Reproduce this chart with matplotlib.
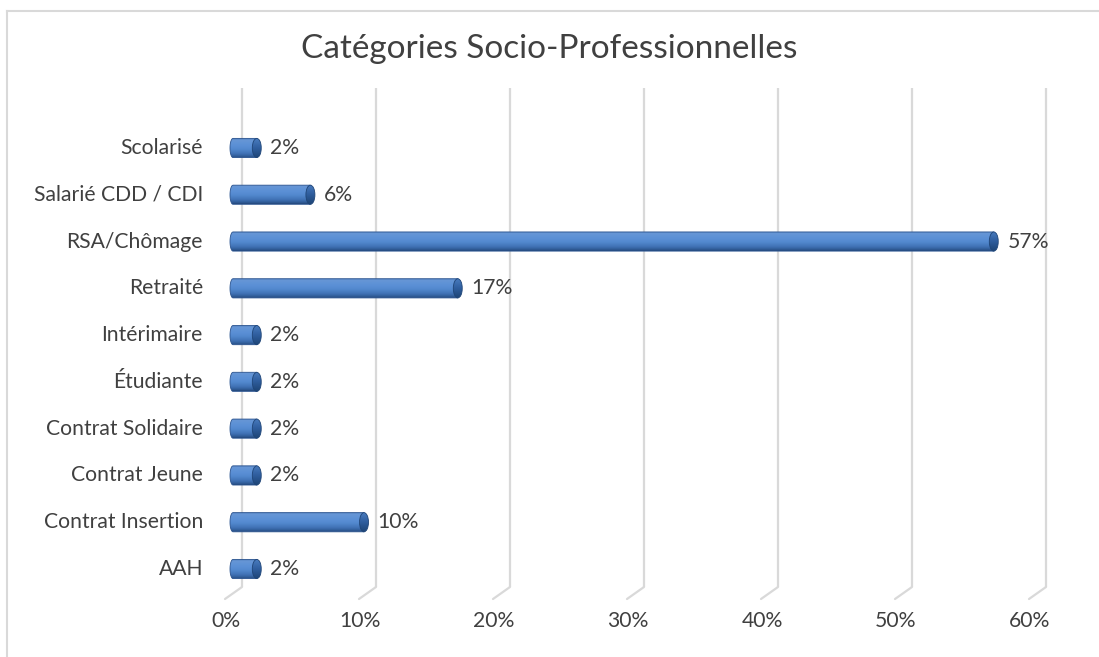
import numpy as np
import matplotlib
matplotlib.use("Agg")
import matplotlib.pyplot as plt
from matplotlib import transforms
from matplotlib.patches import PathPatch, Ellipse
from matplotlib.path import Path
from matplotlib.colors import LinearSegmentedColormap

# ---------------- data ----------------
categories = ["AAH", "Contrat Insertion", "Contrat Jeune", "Contrat Solidaire",
              "Étudiante", "Intérimaire", "Retraité", "RSA/Chômage",
              "Salarié CDD / CDI", "Scolarisé"]
values = [0.02, 0.10, 0.02, 0.02, 0.02, 0.02, 0.17, 0.57, 0.06, 0.02]
value_labels = ["2%", "10%", "2%", "2%", "2%", "2%", "17%", "57%", "6%", "2%"]
ticks = [0.0, 0.1, 0.2, 0.3, 0.4, 0.5, 0.6]
tick_labels = ["0%", "10%", "20%", "30%", "40%", "50%", "60%"]
title = "Catégories Socio-Professionnelles"

# ---------------- layout ----------------
W, H = 1099, 657
S = 1340.0          # px per unit (100 %)
X0 = 230.0          # px of value 0 (bars)
Y_FIRST = 569.0     # px (from top) of first category
STEP = 46.78        # px between categories
FS = 15.2

plt.rcParams['font.family'] = ['Lato', 'DejaVu Sans']
fig = plt.figure(figsize=(W / 100, H / 100), dpi=100)
ax = fig.add_axes([0, 0, 1, 1])
ax.set_xlim(-X0 / S, (W - X0) / S)
ax.set_ylim((Y_FIRST - H) / STEP, Y_FIRST / STEP)
ax.axis("off")

def ypx(p):
    return (Y_FIRST - p) / STEP

# border (top and left only)
fig.add_artist(plt.Line2D([7 / W, 1], [1 - 11 / H, 1 - 11 / H], color="#d9d9d9", lw=1.5))
fig.add_artist(plt.Line2D([7 / W, 7 / W], [0, 1 - 11 / H], color="#d9d9d9", lw=1.5))

# ---------------- gridlines (3D back wall + floor) ----------------
back = transforms.offset_copy(ax.transData, fig=fig, x=12, y=0, units="dots")
front_dx, front_dy = -17, -12
grid_col = "#d9d9d9"
y_top, y_floor = ypx(88), ypx(587)
for t in ticks:
    ax.plot([t, t], [y_floor, y_top], color=grid_col, lw=1.6, transform=back,
            solid_capstyle="butt", zorder=1)
    ax.annotate("", xy=(t, y_floor), xycoords=back,
                xytext=(front_dx, front_dy), textcoords="offset pixels",
                arrowprops=dict(arrowstyle="-", color=grid_col, lw=1.6,
                                shrinkA=0, shrinkB=0), zorder=1)

# tick labels
for t, lab in zip(ticks, tick_labels):
    ax.annotate(lab, xy=(t, ypx(621)), xytext=(-4, 0), textcoords="offset pixels",
                ha="center", va="center", fontsize=FS, color="#404040")

# ---------------- cylinder bars ----------------
cmap = LinearSegmentedColormap.from_list("cyl", [
    (0.00, "#3a68a6"), (0.08, "#6797d6"), (0.35, "#5b90d6"),
    (0.55, "#5389cf"), (0.80, "#3f70b3"), (0.93, "#2f5a94"), (1.00, "#23477a")])
cap_cmap = LinearSegmentedColormap.from_list("cap", [
    (0.0, "#4a7cc0"), (0.5, "#2f5e9e"), (1.0, "#1e4577")])
grad = np.linspace(0, 1, 64).reshape(-1, 1)
h = 0.205                # half bar thickness in category units
rx_cap = 4.5 / S         # cap half width
rx_left = 3.0 / S

for i, (v, lab) in enumerate(zip(values, value_labels)):
    yc = i
    th = np.linspace(np.pi / 2, 3 * np.pi / 2, 20)
    lx = rx_left + rx_left * np.cos(th)
    ly = yc + h * np.sin(th)
    verts = list(zip(lx, ly)) + [(v, yc - h), (v, yc + h), (lx[0], ly[0])]
    path = Path(verts)
    patch = PathPatch(path, facecolor="none", edgecolor="none")
    ax.add_patch(patch)
    im = ax.imshow(grad, cmap=cmap, aspect="auto", origin="upper",
                   extent=[0, v + rx_cap, yc - h, yc + h], zorder=3,
                   interpolation="bilinear")
    im.set_clip_path(patch)
    edge = PathPatch(path, facecolor="none", edgecolor="#2b5490", lw=0.6, zorder=4)
    ax.add_patch(edge)
    cap = Ellipse((v, yc), 2 * rx_cap, 2 * h, facecolor="none", edgecolor="none")
    ax.add_patch(cap)
    cim = ax.imshow(np.linspace(0, 1, 32).reshape(-1, 1), cmap=cap_cmap, aspect="auto",
                    origin="upper", extent=[v - rx_cap, v + rx_cap, yc - h, yc + h],
                    zorder=5, interpolation="bilinear")
    cim.set_clip_path(cap)
    ax.add_patch(Ellipse((v, yc), 2 * rx_cap, 2 * h, facecolor="none",
                         edgecolor="#1f4577", lw=0.6, zorder=6))
    ax.annotate(lab, xy=(v + rx_cap, yc), xytext=(9, 0), textcoords="offset pixels",
                ha="left", va="center", fontsize=FS, color="#404040", zorder=7)
    ax.annotate(categories[i], xy=(-X0 / S, yc), xytext=(203, 0),
                textcoords="offset pixels", ha="right", va="center",
                fontsize=FS, color="#404040")

ax.text(549 / S - X0 / S, ypx(49), title, ha="center", va="center",
        fontsize=24, color="#404040")

fig.savefig("out.png", dpi=100)
